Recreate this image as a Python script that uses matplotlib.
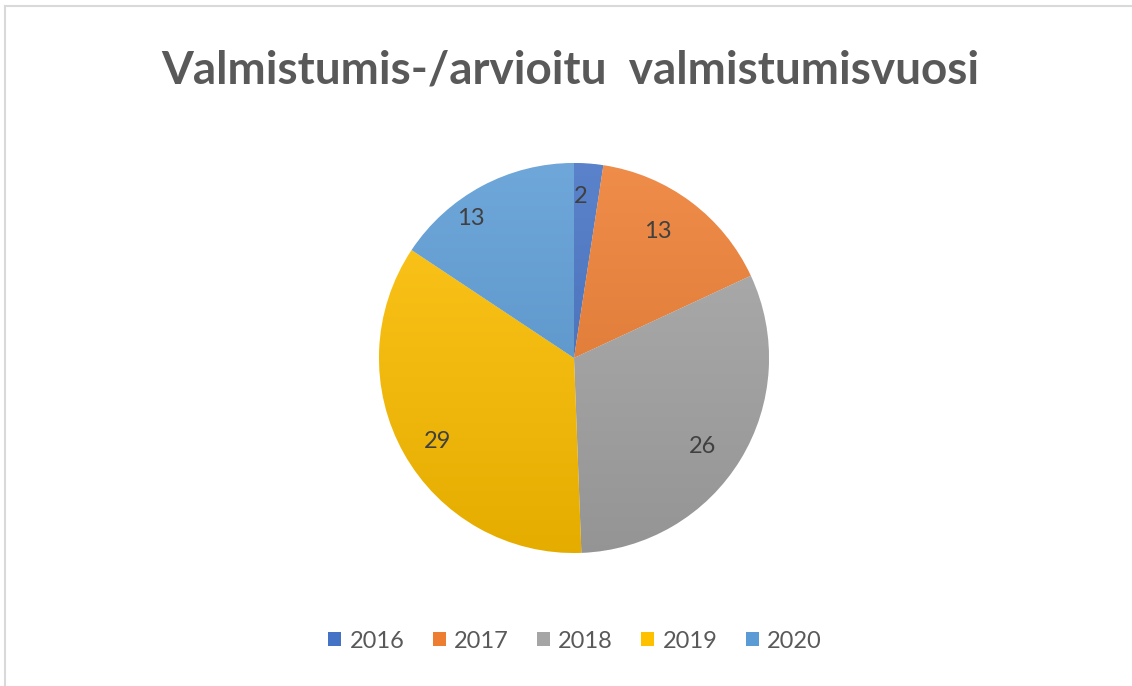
import matplotlib
matplotlib.use("Agg")
import matplotlib.pyplot as plt
import matplotlib.colors as mcolors
from matplotlib.lines import Line2D
from matplotlib.patches import Patch
import numpy as np

title = "Valmistumis-/arvioitu  valmistumisvuosi"
years = ["2016", "2017", "2018", "2019", "2020"]
counts = [2, 13, 26, 29, 13]
colors = ["#4472C4", "#ED7D31", "#A5A5A5", "#FFC000", "#5B9BD5"]

fig = plt.figure(figsize=(11.32, 6.86), dpi=100)
fig.patch.set_facecolor("white")

# frame lines (top and left only visible)
fig.add_artist(Line2D([5/1132, 1.0], [1 - 6/686, 1 - 6/686], color="#D9D9D9", lw=1.5))
fig.add_artist(Line2D([5/1132, 5/1132], [0.0, 1 - 6/686], color="#D9D9D9", lw=1.5))

fig.text(0.504, 1 - 70/686, title, ha="center", va="center",
         fontsize=33, fontweight="bold", color="#595959", family="Lato")

cx, cy, r = 574/1132, 1 - 358/686, 195
ax = fig.add_axes([cx - r/1132, cy - r/686, 2*r/1132, 2*r/686])
wedges, texts = ax.pie(
    counts, colors=colors, startangle=90, counterclock=False,
    wedgeprops=dict(linewidth=0.6, edgecolor="white"))

# data labels (Excel best-fit style: radius fraction and angle nudge per slice)
label_r = [0.83, 0.78, 0.80, 0.82, 0.89]
label_dang = [1.8, 3.2, -3.2, 2.4, 8.1]  # degrees, counter-clockwise nudge
for w, v, lr, da in zip(wedges, counts, label_r, label_dang):
    mid = np.deg2rad((w.theta1 + w.theta2) / 2 + da)
    ax.text(lr * np.cos(mid), lr * np.sin(mid), str(v), ha="center", va="center",
            fontsize=17, color="#404040", family="Lato", zorder=10)

# subtle vertical gradient on each wedge
grad = np.linspace(0, 1, 256).reshape(-1, 1)
for w, c in zip(wedges, colors):
    base = np.array(mcolors.to_rgb(c))
    light = np.clip(base + (1 - base) * 0.12, 0, 1)
    dark = base * 0.9
    cmap = mcolors.LinearSegmentedColormap.from_list("g", [dark, light])
    im = ax.imshow(grad, cmap=cmap, extent=[-1, 1, -1, 1], origin="lower",
                   aspect="auto", zorder=w.get_zorder() + 0.1)
    im.set_clip_path(w)
ax.set_xlim(-1, 1)
ax.set_ylim(-1, 1)
ax.axis("off")

handles = [Patch(facecolor=c, edgecolor="none") for c in colors]
leg = fig.legend(handles, years, loc="center", bbox_to_anchor=(0.508, 1 - 641/686),
                 ncol=5, frameon=False, handlelength=0.55, handleheight=0.55,
                 handletextpad=0.35, columnspacing=1.2, prop=dict(family="Lato", size=17))
for t in leg.get_texts():
    t.set_color("#595959")

fig.savefig("out.png", dpi=100, facecolor="white")
